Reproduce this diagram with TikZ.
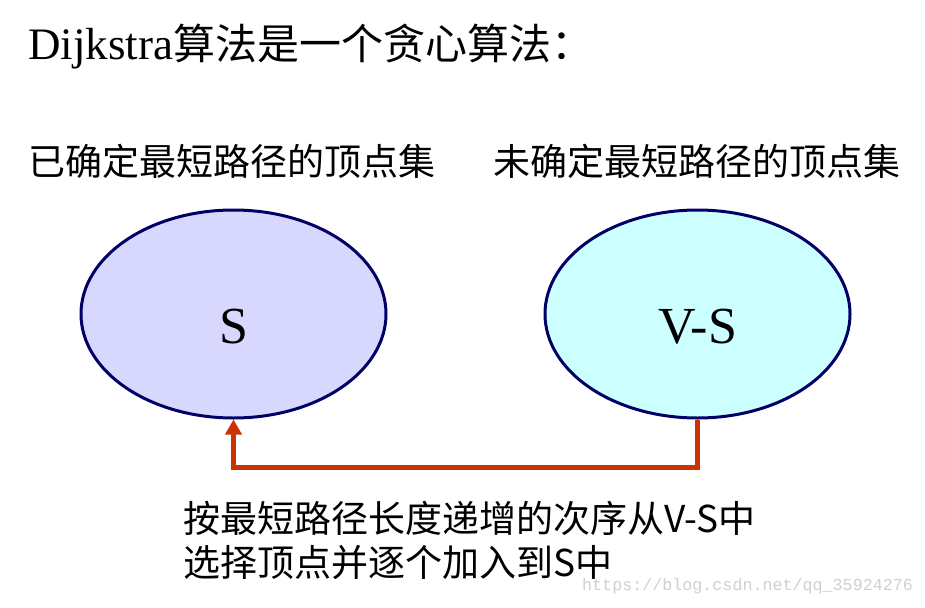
\documentclass[tikz,border=0pt]{standalone}
\usepackage{fontspec}
\setmainfont{Liberation Serif}
\newfontfamily\cjk{Noto Sans CJK SC}
\newfontfamily\wmfont{Liberation Mono}
\usetikzlibrary{arrows.meta,shapes.geometric}
\definecolor{navyline}{RGB}{0,0,102}
\definecolor{lavfill}{RGB}{216,216,255}
\definecolor{cyanfill}{RGB}{204,255,255}
\definecolor{arrowred}{RGB}{204,51,0}
\definecolor{wmgray}{RGB}{208,208,208}
\tikzset{
  setell/.style={ellipse, draw=navyline, line width=3pt, minimum width=305pt, minimum height=208pt, inner sep=0pt},
  labeltext/.style={anchor=base west, inner sep=0pt, font=\cjk\fontsize{37}{44}\selectfont},
  setname/.style={inner sep=0pt, font=\fontsize{52}{60}\selectfont},
  flowarrow/.style={draw=arrowred, line width=5pt, -{Triangle[length=15pt,width=16pt]}},
}
\begin{document}
\begin{tikzpicture}[x=1pt,y=-1pt]
\useasboundingbox (0,0) rectangle (925,607);
\fill[white] (0,0) rectangle (925,607);
% title
\node[anchor=base west, inner sep=0pt] (title) at (28,60)
  {\fontsize{45}{50}\selectfont Dijkstra{\cjk\fontsize{42}{50}\selectfont 算法是一个贪心算法：}};
% labels
\node[labeltext] (lab1) at (28,175) {已确定最短路径的顶点集};
\node[labeltext] (lab2) at (493,175) {未确定最短路径的顶点集};
% ellipses
\node[setell, fill=lavfill] (S) at (233.5,314) {};
\node[setell, fill=cyanfill] (VS) at (697.5,314) {};
\node[setname] (Slab) at (233.5,327) {S};
\node[setname] (VSlab) at (697.5,327) {V-S};
% connector
\coordinate (c1) at (697.5,467);
\coordinate (c2) at (233.5,467);
\draw[flowarrow, line join=miter] (VS.south) -- (c1) -- (c2) -- (S.south);
% bottom text
\node[labeltext] (b1) at (183,532) {按最短路径长度递增的次序从V-S中};
\node[labeltext] (b2) at (183,576) {选择顶点并逐个加入到S中};
% watermark
\node[anchor=base west, inner sep=0pt, text=wmgray, font=\wmfont\fontsize{16.7}{20}\selectfont] (wm) at (582,590) {https://blog.csdn.net/qq\_35924276};
\end{tikzpicture}
\end{document}
